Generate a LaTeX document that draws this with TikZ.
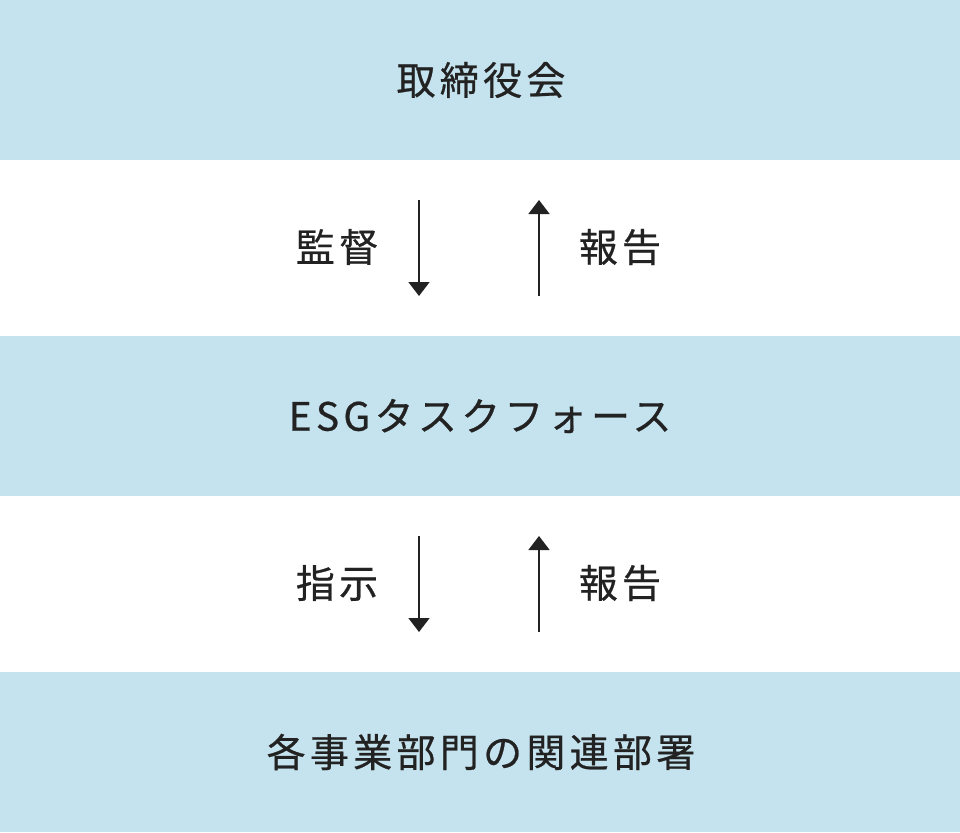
\documentclass[tikz,border=0pt]{standalone}
\usepackage{fontspec}
\usetikzlibrary{arrows.meta}
\newfontfamily\jp[LetterSpace=11,FakeBold=0.6]{Noto Sans CJK JP}
\definecolor{boxblue}{HTML}{C5E3EE}
\definecolor{ink}{HTML}{222222}
\begin{document}
\begin{tikzpicture}[x=1pt,y=-1pt,
  band/.style={fill=boxblue,draw=none,minimum width=960pt,minimum height=160pt,inner sep=0pt,anchor=north west},
  lbl/.style={font=\jp\fontsize{39}{42}\selectfont,text=ink,inner sep=0pt},
  flow/.style={draw=ink,line width=1.6pt,-{Triangle[width=21pt,length=14pt]}}]
\useasboundingbox (0,0) rectangle (960,832);
\node[band] (b1) at (0,0) {};
\node[band] (b2) at (0,336) {};
\node[band] (b3) at (0,672) {};
\node[lbl] (t1) at (481,80) {取締役会};
\node[lbl] (t2) at (480,416) {ESGタスクフォース};
\node[lbl] (t3) at (481,752) {各事業部門の関連部署};
\node[lbl] (l1) at (337,247) {監督};
\node[lbl] (l2) at (620,247) {報告};
\node[lbl] (l3) at (337,583) {指示};
\node[lbl] (l4) at (620,583) {報告};
\coordinate (a1s) at (419,200); \coordinate (a1e) at (419,296);
\coordinate (a2s) at (539,296); \coordinate (a2e) at (539,200);
\coordinate (a3s) at (419,536); \coordinate (a3e) at (419,632);
\coordinate (a4s) at (539,632); \coordinate (a4e) at (539,536);
\draw[flow] (a1s) -- (a1e);
\draw[flow] (a2s) -- (a2e);
\draw[flow] (a3s) -- (a3e);
\draw[flow] (a4s) -- (a4e);
\end{tikzpicture}
\end{document}
